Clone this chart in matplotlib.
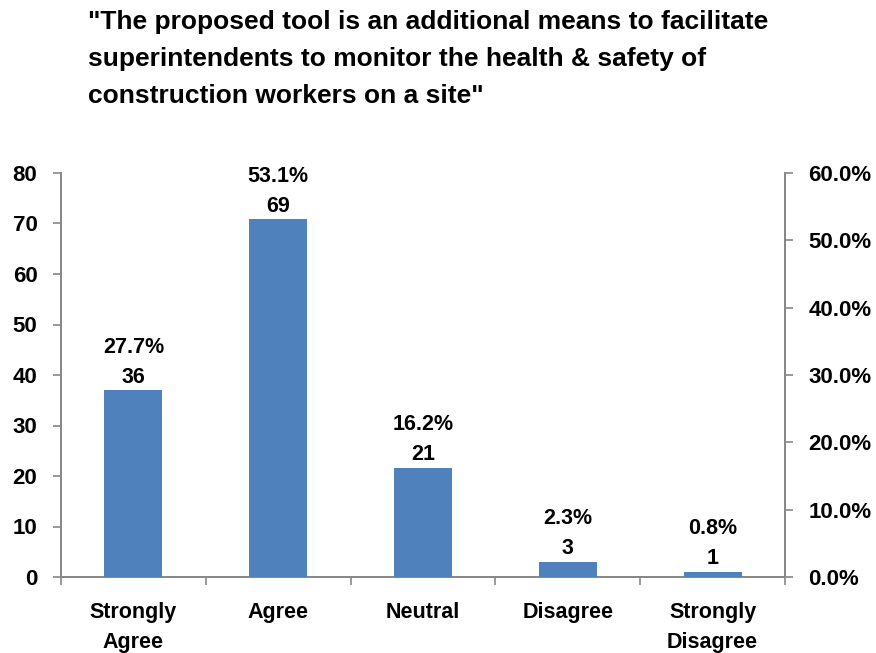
import matplotlib
matplotlib.use("Agg")
import matplotlib.pyplot as plt
import numpy as np
from matplotlib.ticker import FuncFormatter, FixedLocator

categories = ["Strongly\nAgree", "Agree", "Neutral", "Disagree", "Strongly\nDisagree"]
counts = [36, 69, 21, 3, 1]
percents = [27.7, 53.1, 16.2, 2.3, 0.8]
left_ticks = [0, 10, 20, 30, 40, 50, 60, 70, 80]
right_ticks = [0, 10, 20, 30, 40, 50, 60]
title = '"The proposed tool is an additional means to facilitate\nsuperintendents to monitor the health & safety of\nconstruction workers on a site"'

plt.rcParams['font.family'] = ['Liberation Sans Narrow', 'Liberation Sans', 'DejaVu Sans']
plt.rcParams['font.weight'] = 'bold'

fig = plt.figure(figsize=(8.76, 6.53), dpi=100)
ax = fig.add_axes([61/876, 1 - 577/653, (785-61)/876, (577-173)/653])
ax2 = ax.twinx()

x = np.arange(len(categories))
gray = "#868686"
ax2.bar(x, percents, width=0.4, color="#4F81BD", zorder=3)
for xi, p, c in zip(x, percents, counts):
    ax2.annotate(f"{p:.1f}%\n{c}", (xi, p), xytext=(0, 2), textcoords="offset points",
                 ha="center", va="bottom", fontsize=15.5, fontweight="bold",
                 linespacing=1.55)

ax.set_xlim(-0.5, len(categories) - 0.5)
ax.set_ylim(0, 80)
ax2.set_ylim(0, 60)
ax.set_yticks(left_ticks)
ax2.set_yticks(right_ticks)
ax2.yaxis.set_major_formatter(FuncFormatter(lambda v, p: f"{v:.1f}%"))

ax.set_xticks(x)
ax.set_xticklabels(categories, fontsize=15.5, fontweight="bold", linespacing=1.55)
ax.xaxis.set_minor_locator(FixedLocator(np.arange(-0.5, len(categories), 1)))
ax.tick_params(axis="x", which="major", length=0, pad=18)
ax.tick_params(axis="x", which="minor", length=6, color=gray, width=1.2)

for a in (ax, ax2):
    for s in a.spines.values():
        s.set_color(gray)
        s.set_linewidth(1.2)
    a.spines["top"].set_visible(False)
ax.tick_params(axis="y", length=6, color=gray, width=1.2, labelsize=16, pad=11)
ax2.tick_params(axis="y", length=6, color=gray, width=1.2, labelsize=16, pad=11)
for lab in ax.get_yticklabels() + ax2.get_yticklabels():
    lab.set_fontweight("bold")

fig.text(88/876, 1 - 10/653, title, ha="left", va="top", fontsize=19,
         fontweight="bold", linespacing=1.68)

fig.savefig("out.png", dpi=100)
